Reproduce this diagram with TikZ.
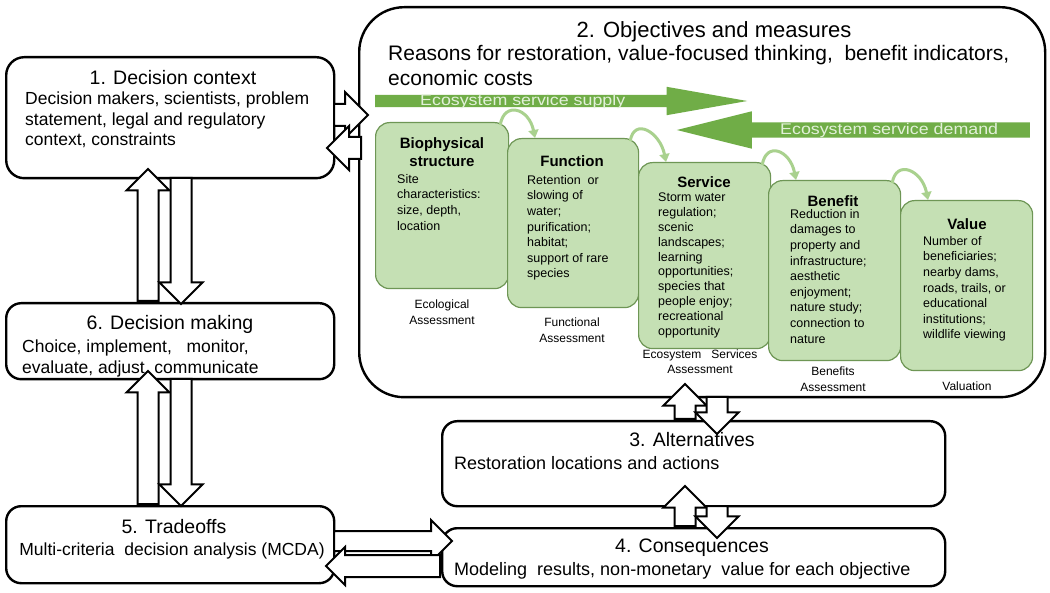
\documentclass[tikz,border=0pt]{standalone}
\usepackage{fontspec}
\setmainfont{Liberation Sans}
\newfontfamily\bandfont[FakeStretch=1.15]{Liberation Sans}
\usepackage{xcolor}
\definecolor{GreenA}{RGB}{112,173,71}
\definecolor{GreenL}{RGB}{197,224,180}
\definecolor{GreenD}{RGB}{110,150,85}
\definecolor{GreenC}{RGB}{169,209,142}
\definecolor{BandCol}{RGB}{226,240,217}
\usepackage{tikz}
\usetikzlibrary{shapes.arrows}
\usetikzlibrary{calc}
\usetikzlibrary{arrows.meta}
\tikzstyle{Box}=[draw=black,line width=2.4pt,rounded corners=15pt,fill=white,
anchor=north west,inner sep=0pt]
\tikzstyle{GBox}=[draw=GreenD,fill=GreenL,line width=1.2pt,rounded corners=14pt,
anchor=north west,inner sep=0pt]
\tikzstyle{GArrow}=[single arrow,draw=none,fill=GreenA,inner sep=0pt,
single arrow head indent=0pt,anchor=tail]
\tikzstyle{BArrow}=[single arrow,draw=black,fill=white,line width=2pt,inner sep=0pt,
inner ysep=9.5pt,single arrow head extend=11pt,single arrow head indent=0pt,anchor=tail]
\tikzstyle{Arc}=[draw=GreenC,line width=3pt,-{Triangle[length=8pt,width=10pt]}]
\tikzstyle{Title}=[font=\fontsize{19.5}{22}\selectfont,inner sep=0pt,anchor=base]
\tikzstyle{Body}=[font=\fontsize{17.5}{20.5}\selectfont,inner sep=0pt,align=left,
anchor=north west]
\tikzstyle{GTitle}=[font=\fontsize{15}{18}\selectfont\bfseries,inner sep=0pt,align=center]
\tikzstyle{GText}=[font=\fontsize{12.5}{15.6}\selectfont,inner sep=0pt,align=left,
anchor=north west]
\tikzstyle{Lbl}=[font=\fontsize{12}{16}\selectfont,inner sep=0pt,align=center,anchor=north]
\tikzstyle{Band}=[font=\bandfont\fontsize{15.5}{15.5}\selectfont,text=BandCol,inner sep=0pt,
anchor=base west]

\begin{document}
\begin{tikzpicture}[x=1pt,y=-1pt]
    \useasboundingbox(0,0)rectangle(1050,593);
    % the six steps
    \node[Box,rounded corners=18pt,minimum width=328pt,minimum height=121pt](1)at(5,56){};
    \node[Box,rounded corners=45pt,minimum width=686pt,minimum height=390pt](2)at(358,6){};
    \node[Box,minimum width=503pt,minimum height=85pt](3)at(441,420){};
    \node[Box,minimum width=503pt,minimum height=58pt](4)at(441,527){};
    \node[Box,minimum width=328pt,minimum height=77pt](5)at(5,505){};
    \node[Box,minimum width=328pt,minimum height=76pt](6)at(5,302){};
    \node[Title](1t)at(173,85){1. Decision context};
    \node[Body](1b)at(25,92){Decision makers, scientists, problem\\statement, legal and regulatory\\context, constraints};
    \node[Title,font=\fontsize{22}{25}\selectfont](2t)at(714,38){2. Objectives and measures};
    \node[Body,font=\fontsize{21}{25}\selectfont](2b)at(388,45){Reasons for restoration, value-focused thinking,\ \ benefit indicators,\\economic costs};
    \node[Title](3t)at(692,447){3. Alternatives};
    \node[Body,font=\fontsize{18}{21}\selectfont,anchor=base west](3b)at(454,470){Restoration locations and actions};
    \node[Title](4t)at(692,552){4. Consequences};
    \node[Body,font=\fontsize{18}{21}\selectfont,anchor=base west](4b)at(454,575){Modeling\ \ results, non-monetary\ \ value for each objective};
    \node[Title](5t)at(174,533){5. Tradeoffs};
    \node[Body,anchor=base](5b)at(172,555){Multi-criteria\ \ decision analysis (MCDA)};
    \node[Title](6t)at(170,330){6. Decision making};
    \node[Body](6b)at(22,340){Choice,\ implement,\ \ \ monitor,\\evaluate,\ adjust,\ communicate};
    % supply and demand
    \node[GArrow,minimum height=372pt,inner ysep=6pt,single arrow head extend=8pt,single arrow tip angle=20](sup)at(375,101){};
    \node[GArrow,minimum height=353pt,inner ysep=7.5pt,single arrow head extend=11pt,single arrow tip angle=28,rotate=180](dem)at(1030,130){};
    \node[Band](supt)at(420,106){Ecosystem service supply};
    \node[Band](demt)at(780,135){Ecosystem service demand};
    % the chain
    \node[GBox,minimum width=133pt,minimum height=166pt](bs)at(375,122){};
    \node[GBox,minimum width=131pt,minimum height=169pt](fn)at(507,138){};
    \node[GBox,minimum width=132pt,minimum height=186pt](sv)at(638,162){};
    \node[GBox,minimum width=132pt,minimum height=180pt](bn)at(768,180){};
    \node[GBox,minimum width=132pt,minimum height=170pt](vl)at(900,200){};
    \foreach \a/\b in {bs/fn,fn/sv,sv/bn,bn/vl}
        \draw[Arc]($(\a.north east)+(-9,3)$)..controls +(4,-24) and +(-6,-30)..($(\b.north west)+(28,0)$);
    \node[GTitle,anchor=north](bst)at(442,137){Biophysical\\structure};
    \node[GText](bsb)at(397,174){Site\\characteristics:\\size, depth,\\location};
    \node[GTitle,anchor=base](fnt)at(572,167){Function};
    \node[GText](fnb)at(527,175){Retention\ \ or\\slowing of\\water;\\purification;\\habitat;\\support of rare\\species};
    \node[GTitle,anchor=base](svt)at(704,188){Service};
    \node[GText,font=\fontsize{12.5}{14.8}\selectfont](svb)at(658,193){Storm water\\regulation;\\scenic\\landscapes;\\learning\\opportunities;\\species that\\people enjoy;\\recreational\\opportunity};
    \node[GTitle,anchor=base](bnt)at(833,207){Benefit};
    \node[GText](bnb)at(790,209){Reduction in\\damages to\\property and\\infrastructure;\\aesthetic\\enjoyment;\\nature study;\\connection to\\nature};
    \node[GTitle,anchor=base](vlt)at(967,230){Value};
    \node[GText](vlb)at(923,236){Number of\\beneficiaries;\\nearby dams,\\roads, trails, or\\educational\\institutions;\\wildlife viewing};
    \node[Lbl](l1)at(442,300){Ecological\\Assessment};
    \node[Lbl](l2)at(572,318){Functional\\Assessment};
    \node[Lbl,font=\fontsize{12}{14.5}\selectfont](l3)at(700,350){Ecosystem\ \ \ Services\\Assessment};
    \node[Lbl](l4)at(833,367){Benefits\\Assessment};
    \node[Lbl,anchor=base](l5)at(967,391){Valuation};
    % block arrows
    \node[BArrow,minimum height=34pt,inner ysep=10pt,single arrow head extend=12pt](a12)at(333,115){};
    \node[BArrow,minimum height=34pt,inner ysep=10pt,single arrow head extend=11pt,rotate=180](a21)at(362,148){};
    \node[BArrow,minimum height=132pt,rotate=90](a61)at(148,302){};
    \node[BArrow,minimum height=126pt,rotate=-90](a16)at(181,177){};
    \node[BArrow,minimum height=133pt,rotate=90](a56)at(148,505){};
    \node[BArrow,minimum height=127pt,rotate=-90](a65)at(181,378){};
    \node[BArrow,minimum height=35pt,rotate=90](a32)at(685,420){};
    \node[BArrow,minimum height=37pt,rotate=-90](a23)at(717,396){};
    \node[BArrow,minimum height=40pt,rotate=90](a43)at(685,527){};
    \node[BArrow,minimum height=32pt,rotate=-90](a34)at(717,505){};
    \node[BArrow,minimum height=118pt,inner ysep=9pt](a54)at(333,541){};
    \node[BArrow,minimum height=114pt,inner ysep=10pt,single arrow head extend=8pt,rotate=180](a45)at(441,566){};
\end{tikzpicture}
\end{document}
